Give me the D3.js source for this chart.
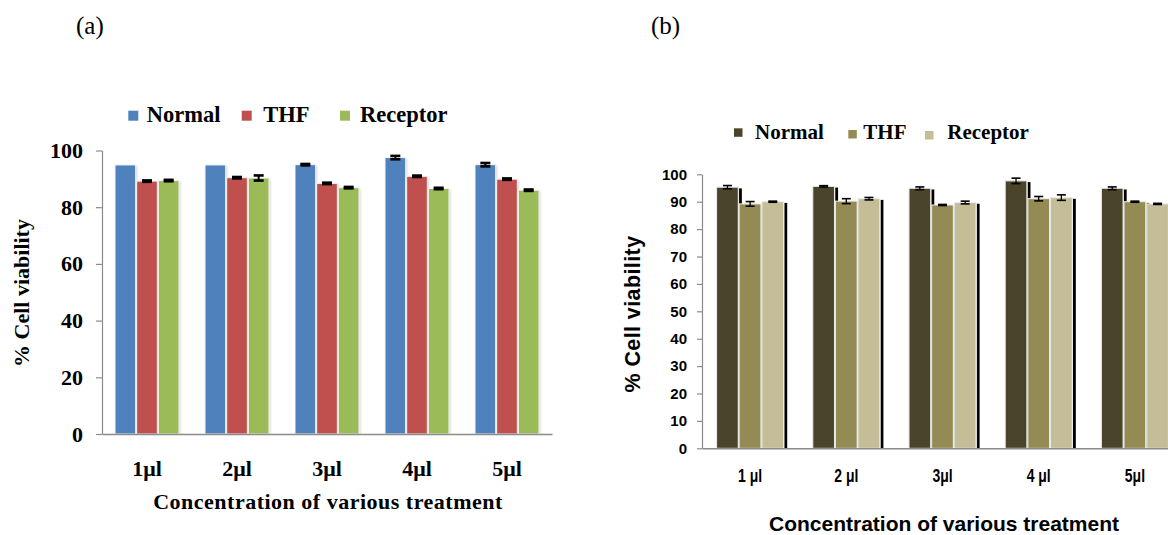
<!DOCTYPE html>
<html>
<head>
<meta charset="utf-8">
<script src="https://cdn.jsdelivr.net/npm/d3@7"></script>
<style>
  body { margin: 0; background: #ffffff; }
  svg { display: block; }
</style>
</head>
<body>
<svg id="chart" width="1168" height="535"></svg>
<script>
// ---- data -------------------------------------------------------------
const seriesNames = ["Normal", "THF", "Receptor"];

// panel (a)
const doseLabelsA = ["1μl", "2μl", "3μl", "4μl", "5μl"];
const normalA   = [94.9, 94.9, 95.0, 97.5, 95.0];
const thfA      = [89.2, 90.4, 88.4, 90.9, 89.9];
const receptorA = [89.4, 90.3, 86.9, 86.6, 86.0];
const normalErrA   = [0, 0, 0.25, 0.6, 0.6];
const thfErrA      = [0.25, 0.25, 0.25, 0.25, 0.25];
const receptorErrA = [0.25, 0.9, 0.25, 0.25, 0.25];
const yTicksA = [0, 20, 40, 60, 80, 100];

// panel (b)
const doseLabelsB = ["1 μl", "2 μl", "3μl", "4 μl", "5μl"];
const normalB   = [95.3, 95.6, 94.9, 97.6, 94.9];
const thfB      = [89.2, 90.2, 88.8, 91.1, 90.0];
const receptorB = [90.0, 91.1, 89.7, 91.5, 89.2];
const normalErrB   = [0.6, 0.25, 0.5, 1.0, 0.5];
const thfErrB      = [0.85, 0.9, 0.2, 0.8, 0.2];
const receptorErrB = [0.2, 0.45, 0.5, 1.0, 0.2];
const yTicksB = [0, 10, 20, 30, 40, 50, 60, 70, 80, 90, 100];

const axisTitleX = "Concentration of various treatment";
const axisTitleY = "% Cell viability";

// ---- helpers ----------------------------------------------------------
function buildRows(labels, vals, errs) {
  return labels.map((d, i) => ({
    dose: d,
    values: seriesNames.map((s, k) => ({ series: s, value: vals[k][i], err: errs[k][i] }))
  }));
}

const svg = d3.select("#chart");

function drawPanel(rows, opt) {
  const g = svg.append("g");
  const x0 = d3.scaleBand()
    .domain(rows.map(r => r.dose))
    .range(opt.xRange)
    .paddingInner(opt.pad).paddingOuter(opt.pad / 2);
  const x1 = d3.scaleBand().domain(seriesNames).range([0, x0.bandwidth()]);
  const y = d3.scaleLinear().domain([0, 100]).range(opt.yRange);
  const color = d3.scaleOrdinal().domain(seriesNames).range(opt.colors);

  // value axis
  const yAxis = g.append("g")
    .attr("transform", `translate(${opt.xRange[0]},0)`)
    .call(d3.axisLeft(y).tickValues(opt.yTicks).tickSize(opt.tickLen).tickPadding(opt.tickPad).tickSizeOuter(0));
  yAxis.select(".domain").attr("stroke", "#8c8c8c").attr("stroke-width", 1.2);
  yAxis.selectAll(".tick line").attr("stroke", "#8c8c8c").attr("stroke-width", 1.2);
  yAxis.selectAll(".tick text")
    .attr("fill", "#000").attr("font-family", opt.tickFont)
    .attr("font-weight", "bold").attr("font-size", opt.yTickSize);

  // bars
  const groups = g.selectAll(".grp").data(rows).join("g")
    .attr("transform", d => `translate(${x0(d.dose)},0)`);

  groups.each(function (row) {
    const gg = d3.select(this);
    row.values.forEach(v => {
      const bx = x1(v.series) + 0.5;
      const bw = x1.bandwidth() - 1;
      const top = y(v.value);
      const h = y(0) - top;
      if (opt.shadow === "soft") {
        gg.append("rect").attr("x", bx + 1.5).attr("y", top + 1).attr("width", bw).attr("height", h - 1)
          .attr("fill", "#d6d6d6").attr("filter", "url(#soft)");
      } else if (opt.shadow === "hard") {
        gg.append("rect").attr("x", bx + bw + 0.8).attr("y", top + 1.2).attr("width", 2.8).attr("height", h - 1.2)
          .attr("fill", "#000");
      }
      gg.append("rect")
        .attr("x", bx).attr("y", top).attr("width", bw).attr("height", h)
        .attr("fill", color(v.series))
        .attr("stroke", opt.barEdge).attr("stroke-width", 1);
    });
    // error bars on top
    row.values.forEach(v => {
      if (!v.err) return;
      const cx = x1(v.series) + x1.bandwidth() / 2;
      const yHi = y(v.value + v.err), yLo = y(v.value - v.err);
      gg.append("line").attr("x1", cx).attr("x2", cx).attr("y1", yHi).attr("y2", yLo)
        .attr("stroke", "#000").attr("stroke-width", opt.errStem);
      [yHi, yLo].forEach(yy => gg.append("line")
        .attr("x1", cx - opt.capW / 2).attr("x2", cx + opt.capW / 2).attr("y1", yy).attr("y2", yy)
        .attr("stroke", "#000").attr("stroke-width", opt.errCap));
    });
  });

  // category axis
  const xAxis = g.append("g")
    .attr("transform", `translate(0,${opt.yRange[0]})`)
    .call(d3.axisBottom(x0).tickSize(0).tickSizeOuter(0));
  xAxis.select(".domain").attr("stroke", "#8c8c8c").attr("stroke-width", 1.4);
  xAxis.selectAll(".tick text")
    .attr("y", opt.xLabelOffset).attr("dy", null)
    .attr("transform", `scale(${opt.xTickScaleX},1)`)
    .attr("fill", "#000").attr("font-family", opt.tickFont)
    .attr("font-weight", "bold").attr("font-size", opt.xTickSize);

  // axis titles
  g.append("text")
    .attr("x", opt.xTitlePos[0]).attr("y", opt.xTitlePos[1])
    .attr("text-anchor", "middle")
    .attr("font-family", opt.titleFont).attr("font-weight", "bold")
    .attr("font-size", opt.xTitleSize).attr("letter-spacing", opt.xTitleSpacing)
    .text(axisTitleX);
  g.append("text")
    .attr("transform", `translate(${opt.yTitlePos[0]},${opt.yTitlePos[1]}) rotate(-90)`)
    .attr("text-anchor", "middle")
    .attr("font-family", opt.yTitleFont).attr("font-weight", "bold")
    .attr("font-size", opt.yTitleSize).attr("letter-spacing", opt.yTitleSpacing)
    .text(axisTitleY);

  // legend
  seriesNames.forEach((s, i) => {
    g.append("rect")
      .attr("x", opt.legendX[i]).attr("y", opt.legendSwatchY[i])
      .attr("width", opt.swatch).attr("height", opt.swatch)
      .attr("fill", color(s));
    g.append("text")
      .attr("x", opt.legendTextX[i]).attr("y", opt.legendBaseline)
      .attr("font-family", "'Liberation Serif', 'Times New Roman', serif")
      .attr("font-weight", "bold").attr("font-size", opt.legendSize)
      .text(s);
  });

  // panel letter
  g.append("text")
    .attr("x", opt.letterPos[0]).attr("y", opt.letterPos[1])
    .attr("font-family", "'Liberation Serif', 'Times New Roman', serif")
    .attr("font-size", 25)
    .text(opt.letter);
}

// soft shadow filter for the left panel
const defs = svg.append("defs");
defs.append("filter").attr("id", "soft").attr("x", "-20%").attr("y", "-5%").attr("width", "140%").attr("height", "110%")
  .append("feGaussianBlur").attr("stdDeviation", 1);

const serif = "'Liberation Serif', 'Times New Roman', serif";
const sans = "'Liberation Sans', Arial, sans-serif";

drawPanel(
  buildRows(doseLabelsA, [normalA, thfA, receptorA], [normalErrA, thfErrA, receptorErrA]),
  {
    letter: "(a)", letterPos: [76, 34],
    xRange: [102, 552], yRange: [434, 150.5], pad: 0.278,
    colors: ["#4F81BD", "#C0504D", "#9BBB59"],
    yTicks: yTicksA, tickLen: 6, tickPad: 13, yTickSize: 22, xTickSize: 22, xTickScaleX: 1,
    tickFont: serif, titleFont: serif, yTitleFont: serif,
    xLabelOffset: 42,
    xTitlePos: [328, 509], xTitleSize: 22, xTitleSpacing: 0.5,
    yTitlePos: [29, 293], yTitleSize: 22, yTitleSpacing: 0,
    legendX: [128.3, 241.7, 340], legendSwatchY: [110.7, 110.7, 110.7], swatch: 10,
    legendTextX: [146.7, 263.3, 360], legendBaseline: 122, legendSize: 22.5,
    shadow: "soft", barEdge: "#f4f4f4",
    errStem: 2, errCap: 2.6, capW: 10
  }
);

drawPanel(
  buildRows(doseLabelsB, [normalB, thfB, receptorB], [normalErrB, thfErrB, receptorErrB]),
  {
    letter: "(b)", letterPos: [651, 34],
    xRange: [702, 1183], yRange: [448.3, 174.3], pad: 0.293,
    colors: ["#4A452A", "#948A54", "#C4BD97"],
    yTicks: yTicksB, tickLen: 5, tickPad: 10, yTickSize: 15, xTickSize: 17.5, xTickScaleX: 0.8,
    tickFont: sans, titleFont: sans, yTitleFont: sans,
    xLabelOffset: 34,
    xTitlePos: [944, 531], xTitleSize: 21, xTitleSpacing: 0,
    yTitlePos: [640, 314], yTitleSize: 21.5, yTitleSpacing: 0.4,
    legendX: [734, 848.3, 925], legendSwatchY: [128.3, 130, 131], swatch: 8.5,
    legendTextX: [755, 863.3, 947.3], legendBaseline: 139.3, legendSize: 21,
    shadow: "hard", barEdge: "#ececec",
    errStem: 1.3, errCap: 1.6, capW: 9
  }
);
</script>
</body>
</html>
